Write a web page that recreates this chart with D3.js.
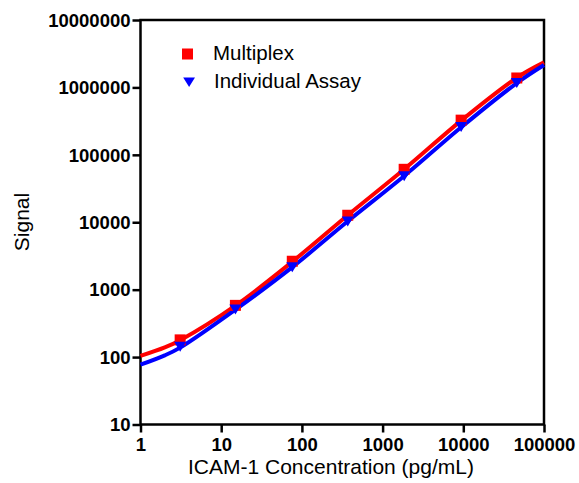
<!DOCTYPE html>
<html>
<head>
<meta charset="utf-8">
<script src="https://cdn.jsdelivr.net/npm/d3@7"></script>
<style>
  html, body { margin: 0; padding: 0; background: #fff; }
  svg { display: block; font-family: "Liberation Sans", Arial, sans-serif; }
</style>
</head>
<body>
<svg id="chart" width="579" height="483"></svg>
<script>
// ---- data ----
const concentrations   = [3.1, 15, 76, 370, 1850, 9400, 46000];
const multiplexSignal  = [180, 585, 2640, 12700, 61000, 327000, 1380000];
const individualSignal = [142, 510, 2150, 10300, 48000, 258000, 1160000];

const fitConc          = [1, 2, 3.1, 15, 76, 370, 1850, 9400, 46000, 100000];
const multiplexFit     = [104, 139, 178, 580, 2600, 12700, 61000, 322000, 1390000, 2350000];
const individualFit    = [77, 106, 138, 505, 2160, 10350, 48500, 256000, 1160000, 2150000];

const xTicks = [1, 10, 100, 1000, 10000, 100000];
const yTicks = [10, 100, 1000, 10000, 100000, 1000000, 10000000];
const seriesNames = ["Multiplex", "Individual Assay"];
const seriesColors = ["#ff0000", "#0000ff"];

// ---- layout ----
const L = 140.5, R = 544, T = 20, B = 424.5;
const svg = d3.select("#chart");

const x = d3.scaleLog().domain([1, 100000]).range([L, R]);
const y = d3.scaleLog().domain([10, 10000000]).range([B, T]);

// axes
const xAxis = d3.axisBottom(x).tickValues(xTicks).tickFormat(d3.format("d")).tickSize(8).tickPadding(5);
const yAxis = d3.axisLeft(y).tickValues(yTicks).tickFormat(d3.format("d")).tickSize(8).tickPadding(2);

const gx = svg.append("g").attr("transform", `translate(0,${B})`).call(xAxis);
const gy = svg.append("g").attr("transform", `translate(${L},0)`).call(yAxis);
[gx, gy].forEach(g => {
  g.select(".domain").remove();
  g.selectAll(".tick line").attr("stroke", "#000").attr("stroke-width", 2.5);
  g.selectAll(".tick text")
    .attr("fill", "#000")
    .style("font-size", "18.5px")
    .style("font-weight", "bold")
    .style("font-family", '"Liberation Sans", Arial, sans-serif');
});
gy.selectAll(".tick text").attr("dy", "0.34em");
gx.selectAll(".tick text").attr("dy", "0.72em");

// frame
svg.append("rect")
  .attr("x", L).attr("y", T)
  .attr("width", R - L).attr("height", B - T)
  .attr("fill", "none").attr("stroke", "#000").attr("stroke-width", 2.5);

// fitted curves
const line = d3.line().curve(d3.curveCatmullRom.alpha(0.5)).x(d => x(d[0])).y(d => y(d[1]));
const fits = [multiplexFit, individualFit];
fits.forEach((fit, i) => {
  svg.append("path")
    .datum(fitConc.map((c, k) => [c, fit[k]]))
    .attr("d", line)
    .attr("fill", "none")
    .attr("stroke", seriesColors[i])
    .attr("stroke-width", 4)
    .attr("stroke-linejoin", "round");
});

// markers
const sq = 11;
function trianglePath(cx, cy) {
  const w = 12, h = 10;
  return `M${cx - w / 2},${cy - h / 2}L${cx + w / 2},${cy - h / 2}L${cx},${cy + h / 2}Z`;
}
svg.append("g").selectAll("rect")
  .data(concentrations.map((c, k) => [c, multiplexSignal[k]]))
  .join("rect")
  .attr("x", d => x(d[0]) - sq / 2)
  .attr("y", d => y(d[1]) - sq / 2)
  .attr("width", sq).attr("height", sq)
  .attr("fill", seriesColors[0]);

svg.append("g").selectAll("path")
  .data(concentrations.map((c, k) => [c, individualSignal[k]]))
  .join("path")
  .attr("d", d => trianglePath(x(d[0]), y(d[1])))
  .attr("fill", seriesColors[1]);

// legend
const lg = svg.append("g");
lg.append("rect").attr("x", 187.5 - sq / 2).attr("y", 54 - sq / 2)
  .attr("width", sq).attr("height", sq).attr("fill", seriesColors[0]);
lg.append("path").attr("d", "M183.2,77.5L195,77.5L189.1,87Z").attr("fill", seriesColors[1]);
lg.append("text").attr("x", 213).attr("y", 60).text(seriesNames[0])
  .style("font-size", "20.5px").attr("fill", "#000");
lg.append("text").attr("x", 214).attr("y", 87.5).text(seriesNames[1])
  .style("font-size", "20.5px").attr("fill", "#000");

// axis titles
svg.append("text")
  .attr("x", 331).attr("y", 474)
  .attr("text-anchor", "middle")
  .style("font-size", "21px")
  .attr("fill", "#000")
  .text("ICAM-1 Concentration (pg/mL)");

svg.append("text")
  .attr("transform", "translate(29,222) rotate(-90)")
  .attr("text-anchor", "middle")
  .style("font-size", "21px")
  .attr("fill", "#000")
  .text("Signal");
</script>
</body>
</html>
